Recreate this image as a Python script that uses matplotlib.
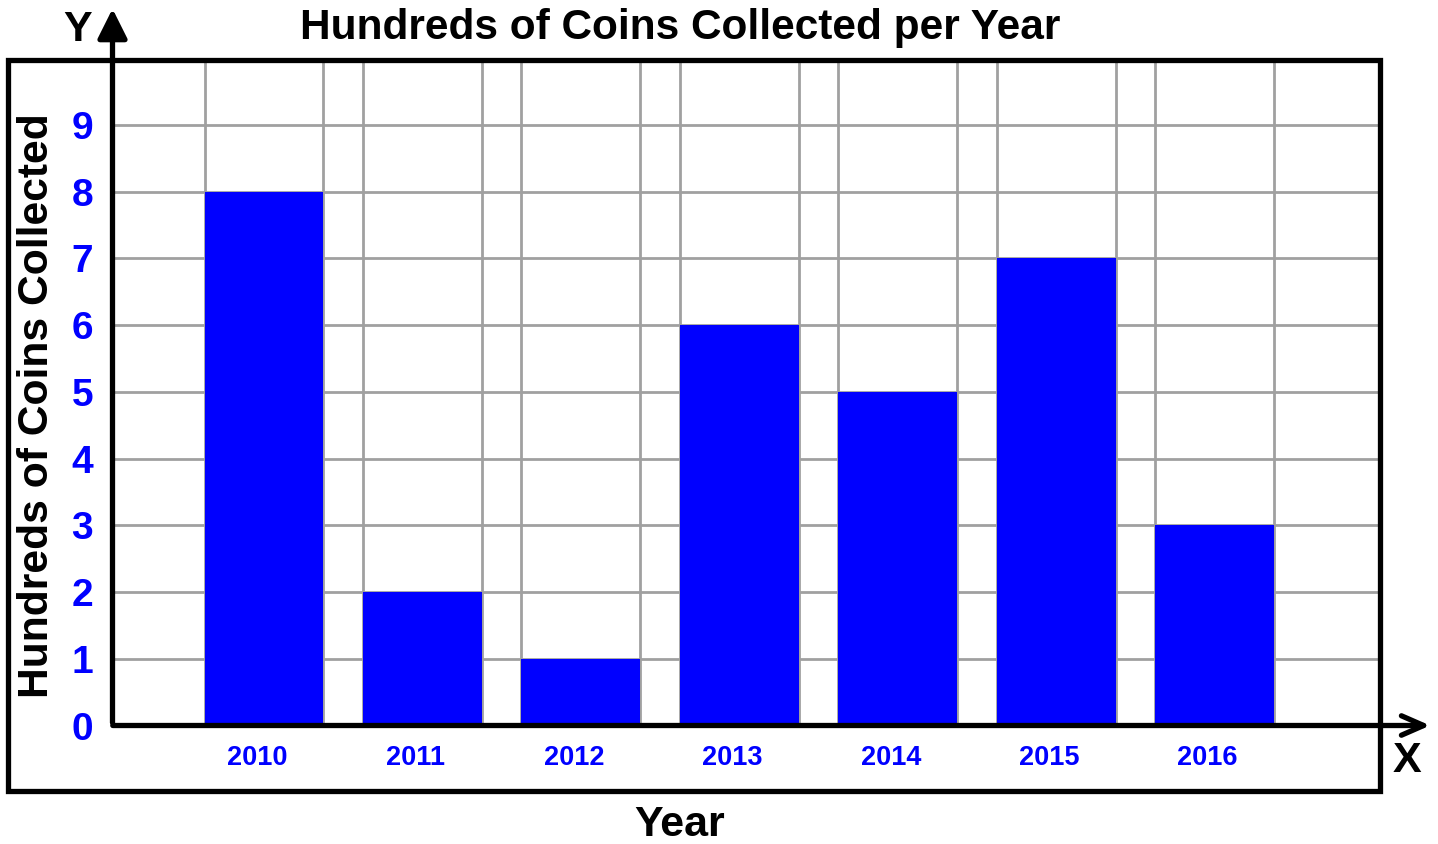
import matplotlib
matplotlib.use("Agg")
import matplotlib.pyplot as plt
from matplotlib.patches import Rectangle, FancyArrowPatch
import matplotlib.transforms as mtransforms
import numpy as np

years = ["2010", "2011", "2012", "2013", "2014", "2015", "2016"]
values = [8, 2, 1, 6, 5, 7, 3]
y_ticks = [0, 1, 2, 3, 4, 5, 6, 7, 8, 9]

W, H = 1438, 844
fig = plt.figure(figsize=(W / 100, H / 100), dpi=100)
plt.rcParams['font.family'] = ['Liberation Sans', 'DejaVu Sans']

def fx(px):
    return px / W

def fy(py):
    return 1 - py / H

ax_l, ax_r, ax_b, ax_t = 112.5, 1380, 725.5, 58.3
ax = fig.add_axes([fx(ax_l), fy(ax_b), fx(ax_r - ax_l), (ax_b - ax_t) / H])

x = np.arange(len(years))
width = 0.75
ax.bar(x, values, width=width, color="#0000ff", zorder=3)
ax.set_xlim(-0.956, len(years) + 0.044)
ax.set_ylim(0, 10)

for s in ax.spines.values():
    s.set_visible(False)

ax.set_yticks(y_ticks)
ax.set_yticklabels([str(v) for v in y_ticks], color="#0000ff", fontsize=28, fontweight="bold")
ax.set_xticks(x)
ax.set_xticklabels(years, color="#0000ff", fontsize=19.5, fontweight="bold")
ax.set_xticks(np.concatenate([x - width / 2, x + width / 2]), minor=True)
ax.tick_params(axis="both", which="both", length=0)
ax.tick_params(axis="y", pad=14)
ax.tick_params(axis="x", pad=14)
shift = mtransforms.ScaledTranslation(-7 / 100, 0, fig.dpi_scale_trans)
for lbl in ax.get_xticklabels():
    lbl.set_transform(lbl.get_transform() + shift)
ax.grid(False)
ax.xaxis.grid(True, which="minor", color="#a0a0a0", linewidth=2, zorder=0)
ax.yaxis.grid(True, which="major", color="#a0a0a0", linewidth=2, zorder=0)
ax.set_axisbelow(True)

# outer frame
fig.patches.append(Rectangle((fx(7.5), fy(791)), fx(1379.5 - 7.5), (791 - 59.5) / H,
                             transform=fig.transFigure, fill=False, edgecolor="black",
                             linewidth=3.8, zorder=5))

# axes arrows
fig.add_artist(FancyArrowPatch((fx(112.5), fy(725.5)), (fx(112.5), fy(6)),
               transform=fig.transFigure, arrowstyle="-|>,head_length=0.9,head_width=0.45",
               mutation_scale=20, color="black", linewidth=3.8, zorder=6))
fig.add_artist(FancyArrowPatch((fx(110), fy(725.5)), (fx(1433), fy(725.5)),
               transform=fig.transFigure, arrowstyle="->,head_length=0.8,head_width=0.35",
               mutation_scale=20, color="black", linewidth=3.8, zorder=6))

fig.text(fx(78), fy(30), "Y", fontsize=31, fontweight="bold", ha="center", va="center")
fig.text(fx(1407), fy(761), "X", fontsize=31, fontweight="bold", ha="center", va="center")

fig.text(fx(680), fy(28), "Hundreds of Coins Collected per Year", fontsize=30.5,
         fontweight="bold", ha="center", va="center")
fig.text(fx(680), fy(825), "Year", fontsize=31, fontweight="bold", ha="center", va="center")
fig.text(fx(37), fy(406), "Hundreds of Coins Collected", fontsize=30.7, fontweight="bold",
         ha="center", va="center", rotation=90)

fig.savefig("out.png", dpi=100)
